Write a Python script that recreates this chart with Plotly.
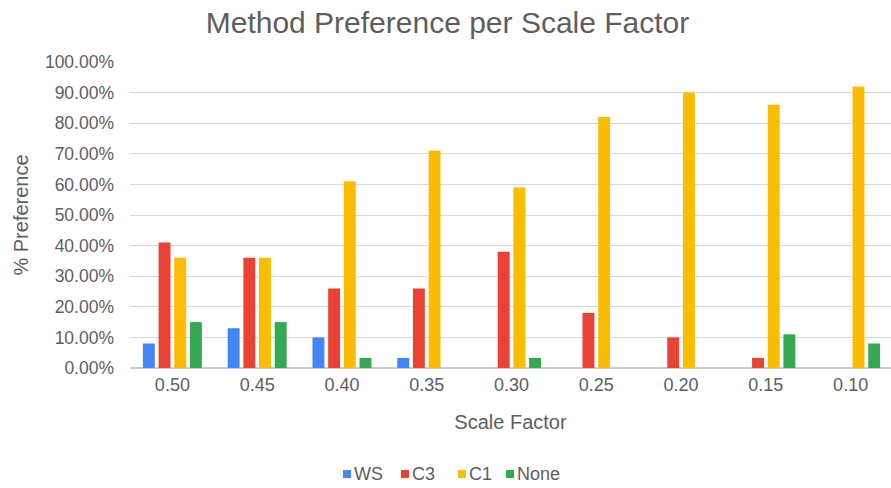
import plotly.graph_objects as go

scale_factors = ["0.50", "0.45", "0.40", "0.35", "0.30", "0.25", "0.20", "0.15", "0.10"]
ws = [0.08, 0.13, 0.10, 0.033, 0.0, 0.0, 0.0, 0.0, 0.0]
c3 = [0.41, 0.36, 0.26, 0.26, 0.38, 0.18, 0.10, 0.033, 0.0]
c1 = [0.36, 0.36, 0.61, 0.71, 0.59, 0.82, 0.90, 0.86, 0.92]
none = [0.15, 0.15, 0.033, 0.0, 0.033, 0.0, 0.0, 0.11, 0.08]

series = [
    ("WS", ws, "#4285F4"),
    ("C3", c3, "#EA4335"),
    ("C1", c1, "#FBBC04"),
    ("None", none, "#34A853"),
]

W, H = 891, 488
M_L, M_R, M_T, M_B = 130, 0, 62, 120
PLOT_W = W - M_L - M_R
PLOT_H = H - M_T - M_B

font_family = "Arial, Liberation Sans, sans-serif"
text_color = "#5e5e5e"


def px_x(px):
    return (px - M_L) / PLOT_W


def px_y(py):
    return (H - M_B - py) / PLOT_H


fig = go.Figure()
for name, vals, color in series:
    fig.add_trace(go.Bar(
        x=scale_factors, y=vals, name=name,
        marker=dict(color=color, line=dict(width=0)),
        showlegend=False,
    ))

# Legend row below the axis title: small square swatch followed by its label
legend_y = px_y(474)
legend_swatch_x = [343, 401, 458, 506]
shapes = []
annotations = []
for (name, _, color), sx in zip(series, legend_swatch_x):
    shapes.append(dict(
        type="rect", xref="paper", yref="paper",
        x0=px_x(sx), x1=px_x(sx + 8),
        y0=px_y(478), y1=px_y(470),
        fillcolor=color, line=dict(width=0),
    ))
    annotations.append(dict(
        text=name, xref="paper", yref="paper",
        x=px_x(sx + 9), y=legend_y, xanchor="left", yanchor="middle",
        showarrow=False, font=dict(size=18, color=text_color, family=font_family),
    ))

fig.update_layout(
    width=W, height=H,
    barmode="group", bargap=0.26, bargroupgap=0.24,
    paper_bgcolor="white", plot_bgcolor="white",
    margin=dict(l=M_L, r=M_R, t=M_T, b=M_B),
    font=dict(family=font_family, color=text_color, size=17),
    title=dict(
        text="Method Preference per Scale Factor",
        x=447.5 / W, xanchor="center", y=1 - 22 / H, yanchor="middle",
        font=dict(size=30, color=text_color, family=font_family),
    ),
    shapes=shapes,
    annotations=annotations,
    showlegend=False,
)

fig.update_xaxes(
    type="category", range=[-0.5, 8.476],
    showgrid=False, showline=False, ticks="",
    tickfont=dict(size=18, color=text_color),
    ticklabelstandoff=4,
    title=dict(text="Scale Factor", font=dict(size=20, color=text_color), standoff=20),
)

fig.update_yaxes(
    range=[0, 1], dtick=0.1, tickformat=".2%",
    showgrid=True, gridcolor="#d9d9d9", gridwidth=1,
    zeroline=True, zerolinecolor="#cccccc", zerolinewidth=1.5,
    showline=False, ticks="",
    tickfont=dict(size=17.5, color=text_color),
    ticklabelstandoff=15,
    title=dict(text="% Preference", font=dict(size=20, color=text_color), standoff=10),
)

fig.write_html("out.html")
